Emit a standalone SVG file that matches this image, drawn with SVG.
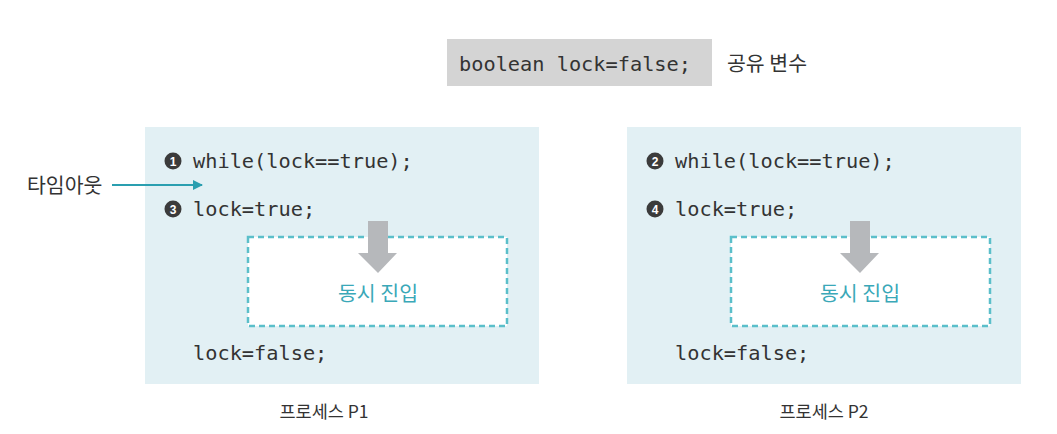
<svg xmlns="http://www.w3.org/2000/svg" width="1057" height="434" viewBox="0 0 1057 434">
<style>
.code{font-family:"DejaVu Sans Mono","Liberation Mono",monospace;font-size:20.3px;fill:#333}
.ko{font-family:"Noto Sans CJK KR","Noto Sans",sans-serif;font-size:18px;fill:#333}
.panel{fill:#e2f0f4}
.dash{fill:#fff;stroke:#5bbfca;stroke-width:2.5;stroke-dasharray:6 4}
.enter{font-family:"Noto Sans CJK KR",sans-serif;font-size:20.5px;fill:#3aa8b8;text-anchor:middle}
.num{fill:#3b3b3b}
.numt{font-family:"Liberation Sans",sans-serif;font-size:12px;font-weight:bold;fill:#fff;text-anchor:middle}
.garrow{fill:#b6b8bb}
</style>
<defs>
<marker id="ah" markerWidth="10" markerHeight="10" refX="9" refY="5" orient="auto" markerUnits="userSpaceOnUse">
<path d="M0,0 L10,5 L0,10 z" fill="#2a9fb0"/>
</marker>
</defs>
<rect width="1057" height="434" fill="#fff"/>
<g id="shared">
<rect x="447" y="39" width="265" height="47" fill="#d4d4d4"/>
<text x="459" y="71" class="code">boolean lock=false;</text>
<text x="727" y="71" class="ko" style="font-size:20.5px">공유 변수</text>
</g>
<g id="p1">
<rect x="145" y="127" width="394" height="257" class="panel"/>
<circle cx="173" cy="161" r="8.5" class="num"/><text x="173" y="165.5" class="numt">1</text>
<text x="193" y="168" class="code">while(lock==true);</text>
<circle cx="173" cy="209" r="8.5" class="num"/><text x="173" y="213.5" class="numt">3</text>
<text x="193" y="216" class="code">lock=true;</text>
<rect x="248" y="237" width="259" height="89" class="dash"/>
<path d="M368,221 H388 V253 H397 L378,273 L358,253 H368 Z" class="garrow"/>
<text x="378" y="301" class="enter">동시 진입</text>
<text x="193" y="360" class="code">lock=false;</text>
<text x="324" y="418" class="ko" text-anchor="middle" style="font-size:17.5px">프로세스 P1</text>
</g>
<g id="p2">
<rect x="627" y="127" width="394" height="257" class="panel"/>
<circle cx="655" cy="161" r="8.5" class="num"/><text x="655" y="165.5" class="numt">2</text>
<text x="675" y="168" class="code">while(lock==true);</text>
<circle cx="655" cy="209" r="8.5" class="num"/><text x="655" y="213.5" class="numt">4</text>
<text x="675" y="216" class="code">lock=true;</text>
<rect x="731" y="237" width="259" height="89" class="dash"/>
<path d="M850,221 H870 V253 H879 L860,273 L840,253 H850 Z" class="garrow"/>
<text x="860" y="301" class="enter">동시 진입</text>
<text x="675" y="360" class="code">lock=false;</text>
<text x="824" y="418" class="ko" text-anchor="middle" style="font-size:17.5px">프로세스 P2</text>
</g>
<g id="timeout">
<text x="27" y="193" class="ko" style="font-size:20.5px">타임아웃</text>
</g>
<g id="connectors">
<line x1="112" y1="185" x2="202" y2="185" stroke="#2a9fb0" stroke-width="1.8" marker-end="url(#ah)"/>
</g>
</svg>
